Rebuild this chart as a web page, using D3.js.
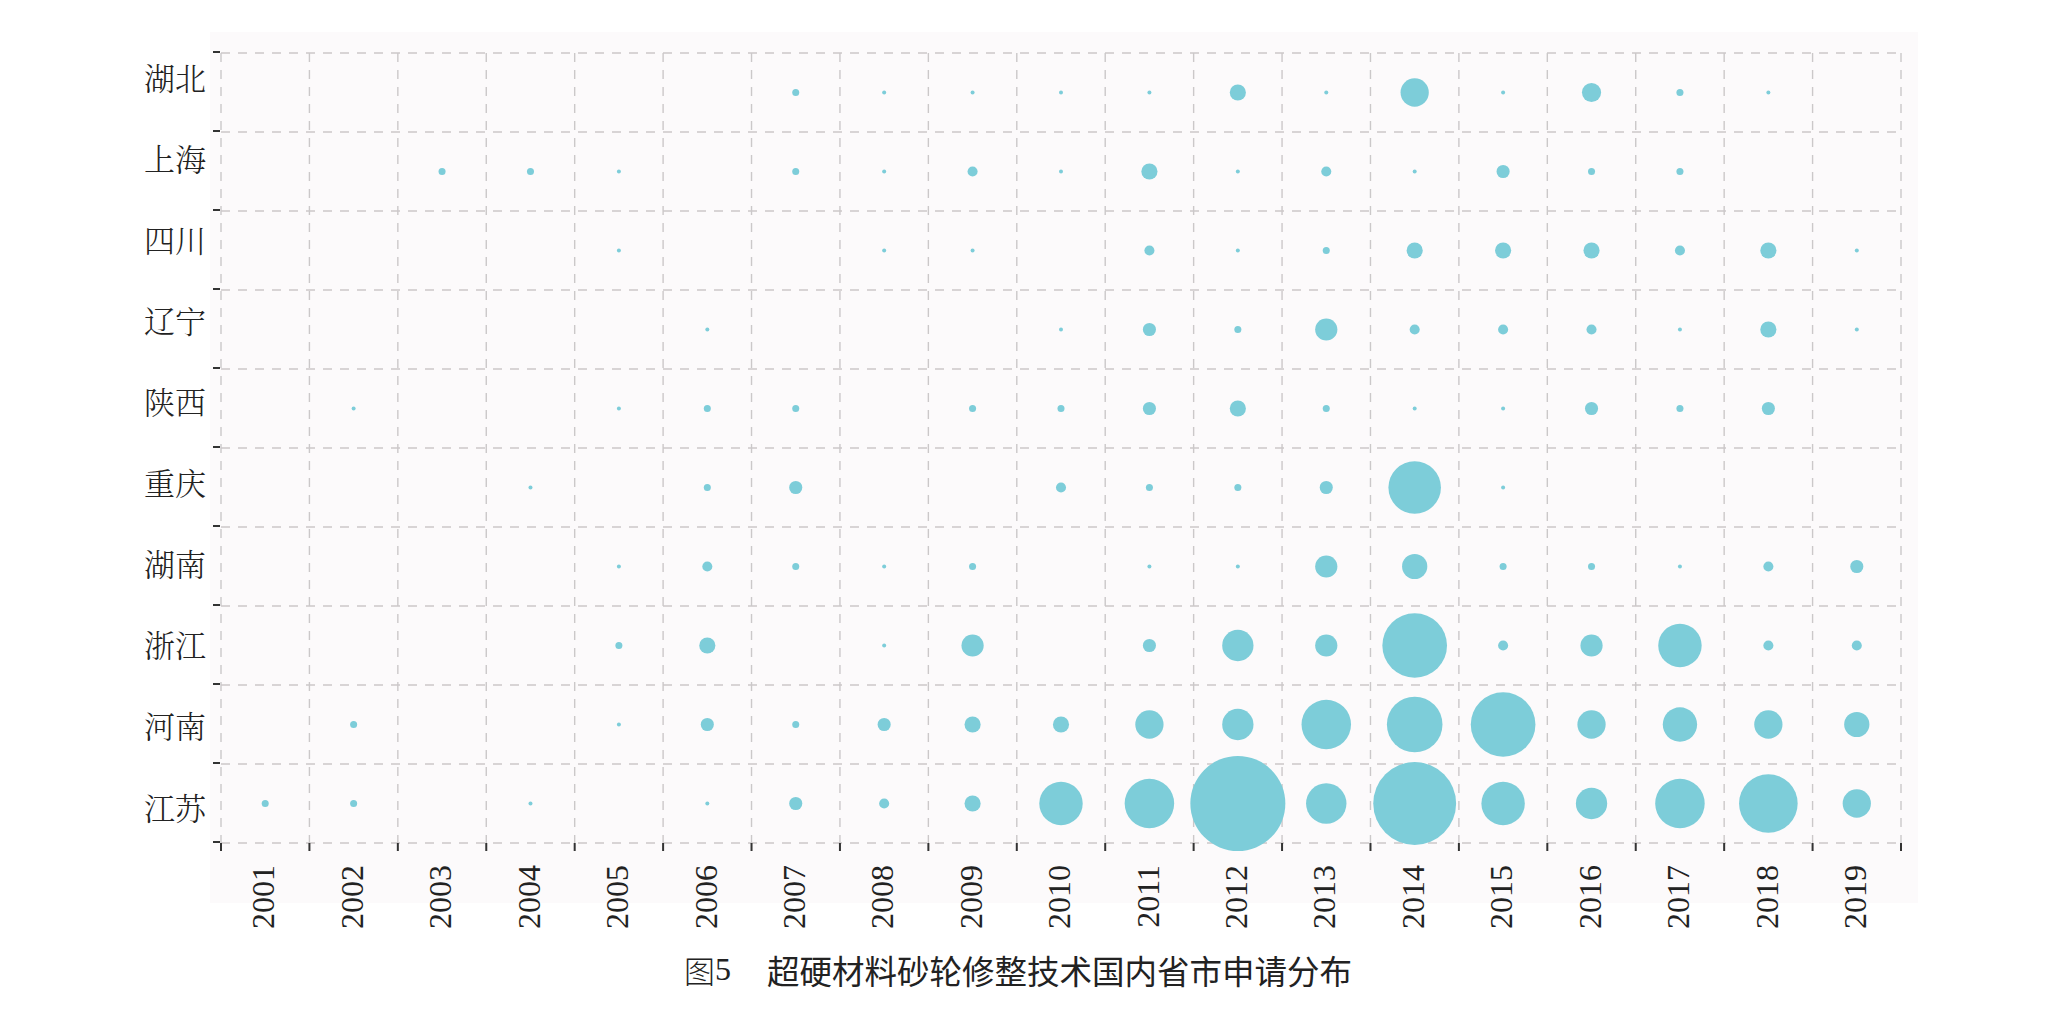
<!DOCTYPE html>
<html>
<head>
<meta charset="utf-8">
<script src="https://cdn.jsdelivr.net/npm/d3@7"></script>
<style>
  html, body { margin: 0; padding: 0; background: #ffffff; }
  svg { display: block; }
</style>
</head>
<body>
<svg id="chart" width="2068" height="1009"></svg>
<script>
// ---- data ----
const years = ["2001","2002","2003","2004","2005","2006","2007","2008","2009","2010",
               "2011","2012","2013","2014","2015","2016","2017","2018","2019"];
const provinces = ["湖北","上海","四川","辽宁","陕西","重庆","湖南","浙江","河南","江苏"];
const hubei    = [0,0,0,0,0,0,2,1,1,1,1,5,1,9,1,6,2,1,0];
const shanghai = [0,0,2,2,1,0,2,1,3,1,5,1,3,1,4,2,2,0,0];
const sichuan  = [0,0,0,0,1,0,0,1,1,0,3,1,2,5,5,5,3,5,1];
const liaoning = [0,0,0,0,0,1,0,0,0,1,4,2,7,3,3,3,1,5,1];
const shaanxi  = [0,1,0,0,1,2,2,0,2,2,4,5,2,1,1,4,2,4,0];
const chongqing= [0,0,0,1,0,2,4,0,0,3,2,2,4,17,1,0,0,0,0];
const hunan    = [0,0,0,0,1,3,2,1,2,0,1,1,7,8,2,2,1,3,4];
const zhejiang = [0,0,0,0,2,5,0,1,7,0,4,10,7,21,3,7,14,3,3];
const henan    = [0,2,0,0,1,4,2,4,5,5,9,10,16,18,21,9,11,9,8];
const jiangsu  = [2,2,0,1,0,1,4,3,5,14,16,31,13,27,14,10,16,19,9];
const seriesByProvince = [hubei, shanghai, sichuan, liaoning, shaanxi, chongqing, hunan, zhejiang, henan, jiangsu];
const title = "超硬材料砂轮修整技术国内省市申请分布";
const figLabel = "图5";

// ---- layout ----
const svg = d3.select("#chart");
const plot = { left: 221, right: 1901, top: 53, bottom: 843 };

svg.append("rect")
  .attr("x", 210).attr("y", 32)
  .attr("width", 1918 - 210).attr("height", 903 - 32)
  .attr("fill", "#fcfafb");

const x = d3.scaleBand().domain(years).range([plot.left, plot.right]).padding(0);
const y = d3.scaleBand().domain(provinces).range([plot.top, plot.bottom]).padding(0);
const labelY = d3.scalePoint().domain(provinces).range([76, 806]);
const r = d3.scaleLinear().domain([1, 31]).range([2, 47.5]);

const gridColor = "#cbc8c9";
const g = svg.append("g");

// vertical grid lines at column boundaries
const xBounds = years.map(d => x(d)).concat([plot.right]);
g.selectAll("line.vg").data(xBounds).join("line")
  .attr("x1", d => d).attr("x2", d => d)
  .attr("y1", plot.top).attr("y2", plot.bottom)
  .attr("stroke", gridColor).attr("stroke-width", 1.4)
  .attr("stroke-dasharray", "9,8");

// horizontal grid lines at row boundaries
const yBounds = provinces.map(d => y(d)).concat([plot.bottom]);
g.selectAll("line.hg").data(yBounds).join("line")
  .attr("x1", plot.left).attr("x2", plot.right)
  .attr("y1", d => d).attr("y2", d => d)
  .attr("stroke", gridColor).attr("stroke-width", 1.4)
  .attr("stroke-dasharray", "9,8");

// y ticks at boundaries
g.selectAll("line.yt").data(yBounds).join("line")
  .attr("x1", plot.left - 8).attr("x2", plot.left - 1)
  .attr("y1", d => d - 1).attr("y2", d => d - 1)
  .attr("stroke", "#333").attr("stroke-width", 2);

// x ticks at boundaries
g.selectAll("line.xt").data(xBounds).join("line")
  .attr("x1", d => d).attr("x2", d => d)
  .attr("y1", plot.bottom).attr("y2", plot.bottom + 8)
  .attr("stroke", "#333").attr("stroke-width", 2);

// bubbles
const cells = [];
provinces.forEach((p, i) => {
  seriesByProvince[i].forEach((v, j) => {
    if (v > 0) cells.push({ p, yr: years[j], v });
  });
});
g.selectAll("circle").data(cells).join("circle")
  .attr("cx", d => x(d.yr) + x.bandwidth() / 2)
  .attr("cy", d => y(d.p) + y.bandwidth() / 2)
  .attr("r", d => r(d.v))
  .attr("fill", "#7dcdd9");

// y labels
g.selectAll("text.yl").data(provinces).join("text")
  .attr("x", 206)
  .attr("y", d => labelY(d))
  .attr("text-anchor", "end")
  .attr("dominant-baseline", "central")
  .attr("font-family", "'Noto Serif CJK SC', 'Noto Sans CJK SC', sans-serif")
  .attr("font-weight", 300)
  .attr("font-size", 31)
  .attr("fill", "#222")
  .text(d => d);

// x labels
g.selectAll("text.xl").data(years).join("text")
  .attr("transform", d => `translate(${x(d) + x.bandwidth() / 2 - 2},865) rotate(-90)`)
  .attr("text-anchor", "end")
  .attr("dy", "0.35em")
  .attr("font-family", "'Liberation Serif', 'Times New Roman', serif")
  .attr("font-size", 32)
  .attr("fill", "#222")
  .text(d => d);

// caption
const cap = svg.append("text")
  .attr("x", 684).attr("y", 969)
  .attr("dominant-baseline", "central")
  .attr("fill", "#222");
cap.append("tspan")
  .attr("font-family", "'Noto Sans CJK SC', sans-serif")
  .attr("font-weight", 300)
  .attr("font-size", 31)
  .text(figLabel.slice(0, 1));
cap.append("tspan")
  .attr("font-family", "'Liberation Serif', serif")
  .attr("font-size", 32)
  .text(figLabel.slice(1));
cap.append("tspan")
  .attr("x", 767)
  .attr("font-family", "'Noto Sans CJK SC', sans-serif")
  .attr("font-weight", 400)
  .attr("font-size", 32.5)
  .text(title);
</script>
</body>
</html>
